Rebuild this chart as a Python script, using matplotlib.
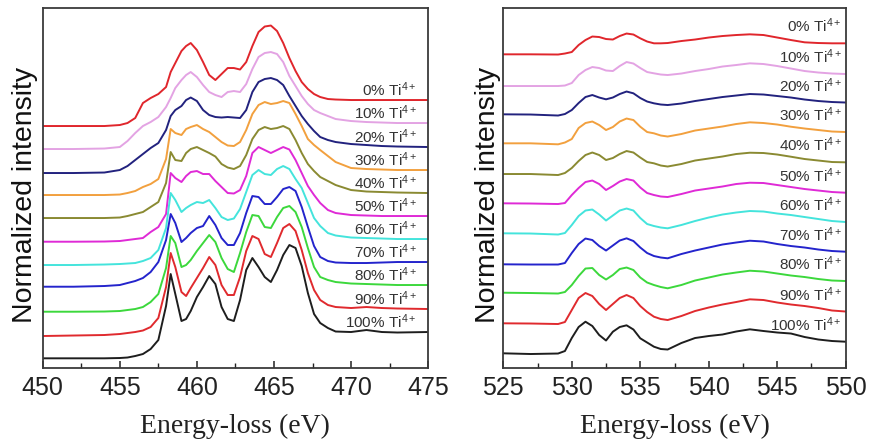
import matplotlib
matplotlib.use("Agg")
import matplotlib.pyplot as plt
from matplotlib.ticker import MultipleLocator

plt.rcParams['font.family'] = ['Liberation Sans', 'DejaVu Sans']
plt.rcParams['mathtext.fontset'] = 'custom'
plt.rcParams['mathtext.rm'] = 'Liberation Sans'
plt.rcParams['mathtext.it'] = 'Liberation Sans:italic'
plt.rcParams['mathtext.bf'] = 'Liberation Sans:bold'

# Ti L2,3 edge (left panel), energy grid in eV
e_ti = [450, 452, 454, 455, 455.5, 456, 456.5, 457, 457.5, 458,
        458.3, 458.6, 459, 459.3, 459.6, 460, 460.4, 460.8, 461.2, 461.6,
        462, 462.4, 462.8, 463.2, 463.6, 464, 464.4, 464.8, 465.2, 465.6,
        466, 466.4, 466.8, 467.2, 467.6, 468, 468.5, 469, 470, 471,
        472, 473, 475]

ti_0 = [242, 242, 242, 243, 245, 250, 265, 270, 274, 281,
        296, 305, 317, 322, 325, 318, 306, 293, 288, 294,
        300, 300, 298.5, 306, 322, 336, 341.5, 342.5, 337, 325,
        310, 297, 286, 279, 274, 271, 269, 268.5, 268, 268,
        268, 268, 268]
ti_10 = [219, 219, 219.5, 221, 227, 235, 242, 246, 251, 261,
         270, 280, 288, 293, 296, 291, 283, 276, 273, 271,
         276, 277, 276, 284, 299, 311, 315, 316, 314, 306,
         292, 282, 272, 264, 258, 255, 252, 249, 247, 246,
         245.5, 245, 245]
ti_20 = [195, 195, 195.5, 198, 202, 208, 214, 220, 225, 238,
         252, 258, 262, 268, 270.5, 267, 258, 253, 251, 250.5,
         251, 250.5, 250, 258, 276, 286, 289, 290, 288, 283,
         272, 262, 252, 244, 237, 231, 228, 226, 224, 223,
         222, 221.5, 221]
ti_30 = [173, 173, 173, 173.5, 175, 177, 181, 184, 189, 209,
         239, 235, 233, 239, 241, 243, 239, 236, 231, 226,
         222.5, 222, 226, 238, 254, 263, 266, 264, 265, 267,
         265, 254, 242, 229, 223, 218, 212, 206, 200, 199,
         198.5, 198, 198]
ti_40 = [150, 150, 150, 150.5, 152, 154, 156, 161, 166, 185,
         216, 208, 207, 215, 219, 221, 218, 215, 211.5, 204,
         200.5, 199, 202, 213, 229, 238, 241, 239, 240, 242,
         239, 228, 215, 204, 197, 191, 187, 183, 178, 176.5,
         176, 175.5, 175]
ti_50 = [126.3, 126.3, 126.5, 127, 128, 129, 130, 136, 141, 154,
         195, 190, 186, 192, 196, 197, 194, 194, 187, 181,
         175, 174.5, 178, 192, 215, 221, 218, 215, 218, 221,
         218.5, 208, 195, 182, 173, 165, 158, 155, 153, 152.5,
         152, 152, 152]
ti_60 = [103, 103, 103.5, 104, 104.5, 105, 107, 110, 118, 140,
         175, 168, 156, 160, 163, 166, 165, 168, 160, 151,
         148, 149.5, 159, 176, 193, 198, 194, 193, 199, 202,
         199, 189, 180, 165, 150, 142, 135, 132.5, 130.5, 130,
         129.5, 129, 129]
ti_70 = [81.3, 81.3, 82, 83, 85, 87, 90, 96, 106, 128,
         154, 145, 126, 130, 135, 140, 142, 152, 143, 130,
         123, 123, 135, 155, 172, 171, 164, 164, 171, 179,
         181, 177, 161, 141, 122, 111, 107, 105.5, 105, 105,
         105.5, 106, 106]
ti_80 = [56.3, 56.3, 56.5, 57, 58, 59, 61, 66, 74, 100,
         132, 125, 101, 103, 108, 117, 125, 133, 126, 110,
         99, 96, 115, 136, 153, 152, 141, 140, 151, 160,
         162, 156, 141, 120, 101, 91, 88, 86, 84.5, 84,
         83.5, 83, 83]
ti_90 = [32, 32.5, 33, 34, 35, 36, 37.5, 41, 50, 81,
         115, 101, 76, 72, 80, 90, 100, 111, 103, 83,
         73, 73, 91, 117, 132, 129, 114, 111, 125, 140,
         144, 137, 118, 95, 78, 68, 63, 61, 60, 61,
         60, 59.5, 59]
ti_100 = [9.7, 9.7, 9.7, 10, 10.5, 12, 14, 19, 28, 62,
          94, 74, 47, 49, 57, 71, 81, 92, 84, 61,
          49, 47, 68, 98, 110, 101, 91, 86, 98, 113,
          123, 120, 102, 75, 54, 45, 40, 36.5, 36, 38,
          36, 35.5, 36]

# O K edge (right panel)
e_o = [525, 527, 529, 529.5, 530, 530.5, 531, 531.5, 532, 532.5,
       533, 533.5, 534, 534.5, 535, 535.5, 536, 536.5, 537, 538,
       539, 540, 541, 542, 543, 544, 545, 546, 547, 548,
       549, 550]

o_0 = [313.7, 313.7, 313.5, 314.5, 316, 323, 328, 331.5, 331, 329,
       328.5, 332, 334.5, 333.5, 329.7, 326.5, 324.7, 324.7, 325, 327,
       328.5, 330.5, 332, 333, 333.7, 333, 330.5, 328, 325.7, 325,
       324.7, 324.7]
o_10 = [282, 282, 282, 282.5, 285, 293, 298, 301, 300, 297.5,
        297, 302, 306, 304.5, 300, 296, 294.7, 293.5, 293, 294.5,
        297, 299, 301.5, 303, 304.7, 304, 302, 299.5, 297, 295.5,
        294.5, 294]
o_20 = [253.7, 253.5, 252.5, 254, 258, 265, 271, 273, 270.5, 268.7,
        270.5, 274, 276.5, 274.7, 270, 266.5, 264.7, 263.5, 263, 264.5,
        267, 269, 271, 272.5, 274, 273.5, 272, 270.5, 268.5, 267,
        266, 265.5]
o_30 = [224.7, 224.7, 223.7, 225.5, 229, 240, 245, 246.5, 243, 238,
        241, 246.5, 249.5, 248, 241.3, 236, 234.7, 232.5, 231.5, 234,
        237.5, 239.5, 241.5, 244, 245.7, 245, 243.5, 241.3, 239.5, 238,
        236.5, 236]
o_40 = [194, 194, 193, 195, 200, 207, 213, 215.5, 213, 208,
        210, 214, 217, 215.5, 210.5, 206, 204.7, 202.5, 201.5, 204,
        207.5, 209.5, 211.5, 214, 215.3, 215, 213.5, 211.3, 209, 207.5,
        206, 205.7]
o_50 = [164.7, 164.5, 164, 165, 173, 180, 186, 187.5, 184, 178,
        182, 186.5, 189, 187.5, 180.5, 175, 173, 171.5, 171, 174,
        177.5, 179.5, 181.5, 184, 185.3, 185, 183, 181, 179, 177.5,
        176, 175.3]
o_60 = [134.7, 134.5, 133.5, 135, 143, 152, 157.5, 158.5, 153.5, 147.5,
        152.5, 157.5, 159.5, 157.5, 150, 144, 142, 140.5, 139.7, 143,
        147, 150.5, 153.5, 155.5, 157, 156.5, 154.5, 153, 151, 149,
        147, 146]
o_70 = [103.7, 103.5, 103.5, 105, 115, 124, 129.5, 128, 122, 117.5,
        122.5, 127.5, 129.7, 127, 120.5, 115, 112, 110.5, 109.7, 114,
        117.5, 120.5, 123.5, 125.5, 127.3, 126.5, 124, 122, 120.5, 118.5,
        117, 116.3]
o_80 = [75.3, 75, 74.5, 76, 83, 92, 99.5, 100, 93, 88.5,
        93, 99, 100.5, 98, 90.5, 85.5, 83, 81, 79.7, 83,
        87.5, 90.5, 93.5, 95.5, 97.3, 96.5, 94.5, 92.5, 91, 89,
        87.5, 87]
o_90 = [44.7, 44.5, 44, 46, 58, 70, 75, 72, 64, 58,
        64, 70, 73, 70, 62, 56, 51.3, 49, 48, 52,
        57, 60.5, 63.5, 66, 68.7, 68, 65.5, 63.5, 62, 60,
        57.5, 56.5]
o_100 = [14.7, 14, 14.5, 17, 30, 41, 46.3, 42, 33, 27.5,
         36.3, 41, 42.7, 38.5, 29.7, 25.5, 21.3, 19, 18.5, 25,
         30, 32, 33.5, 36.5, 38.7, 37, 35.5, 34.5, 31, 28.5,
         27, 26.3]

fractions = ['0%', '10%', '20%', '30%', '40%', '50%', '60%', '70%', '80%', '90%', '100%']
ti_series = [ti_0, ti_10, ti_20, ti_30, ti_40, ti_50, ti_60, ti_70, ti_80, ti_90, ti_100]
o_series = [o_0, o_10, o_20, o_30, o_40, o_50, o_60, o_70, o_80, o_90, o_100]

colors = ['#e0262c', '#e3a3e3', '#22227e', '#f2a03e', '#8a8a32', '#df2ad6',
          '#44e4dc', '#2424cc', '#3cd83c', '#e02a2e', '#1e1e1e']

fig = plt.figure(figsize=(8.7, 4.41), dpi=100)
ax1 = fig.add_axes([0.0491, 0.1655, 0.443, 0.8163])
ax2 = fig.add_axes([0.5785, 0.1655, 0.3936, 0.8163])

panels = [(ax1, e_ti, ti_series, (450, 475), 0.971, 4),
          (ax2, e_o, o_series, (525, 550), 0.989, 11)]

for ax, energy, series, xlim, lab_x, lab_dy in panels:
    for frac, ys, c in zip(fractions, series, colors):
        ax.plot(energy, ys, color=c, lw=1.4, solid_joinstyle='round')
        ax.text(lab_x, ys[-1] + lab_dy, frac + r' Ti$^{4+}$',
                transform=ax.get_yaxis_transform(), ha='right', va='baseline',
                fontsize=11, color='#333333')
    ax.set_xlim(*xlim)
    ax.set_ylim(0, 360)
    ax.set_yticks([])
    ax.xaxis.set_major_locator(MultipleLocator(5))
    ax.xaxis.set_minor_locator(MultipleLocator(2.5))
    ax.tick_params(axis='x', which='major', direction='in', length=5, width=1.1,
                   labelsize=18, pad=6, colors='#222222')
    ax.tick_params(axis='x', which='minor', direction='in', length=3.5, width=1.0,
                   colors='#222222')
    for sp in ax.spines.values():
        sp.set_linewidth(1.3)
        sp.set_color('#3a3a3a')
    ax.set_xlabel('Energy-loss (eV)', fontsize=20, family='Liberation Serif',
                  color='#222222')
    ax.xaxis.set_label_coords(0.5, -0.128)
    ax.set_ylabel('Normalized intensity', fontsize=20.5, color='#111111')

ax1.yaxis.set_label_coords(-0.012, 0.48)
ax2.yaxis.set_label_coords(-0.008, 0.48)

fig.savefig('out.png', dpi=100)
